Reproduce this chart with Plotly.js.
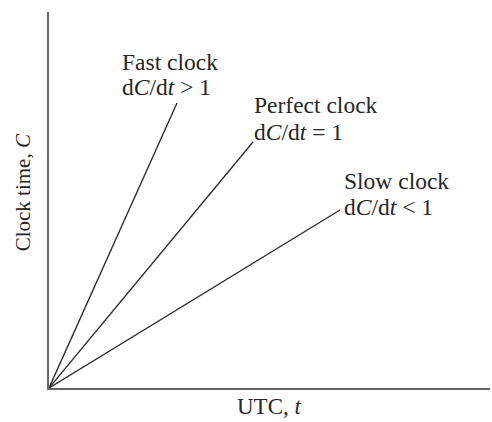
<!DOCTYPE html>
<html>
<head>
<meta charset="utf-8">
<script src="https://cdn.plot.ly/plotly-3.0.1.min.js"></script>
<style>html,body{margin:0;padding:0;background:#fff;}#chart{width:492px;height:422px;}</style>
</head>
<body>
<div id="chart"></div>
<script>
// Clock lines: each starts at the origin and ends at (endT, endC)
const clockNames = ["Fast clock", "Perfect clock", "Slow clock"];
const rateLabels = ["d<i>C</i>/d<i>t</i> > 1", "d<i>C</i>/d<i>t</i> = 1", "d<i>C</i>/d<i>t</i> < 1"];
const endT = [128, 204, 291];
const endC = [285, 246, 178];
// Label anchor positions (left edge, first line / second line)
const labelT = [71, 203, 293];
const labelC1 = [326, 283, 207];
const labelC2 = [301, 256, 181];

const lineColor = "#2e2e2e";
const textColor = "#262626";
const fontFam = "'Liberation Serif', 'Times New Roman', serif";

const traces = clockNames.map((n, i) => ({
  type: "scatter", mode: "lines",
  x: [0, endT[i]], y: [0, endC[i]],
  line: {color: lineColor, width: 1.4},
  hoverinfo: "skip", showlegend: false
}));

const annotations = [];
clockNames.forEach((n, i) => {
  annotations.push({x: labelT[i], y: labelC1[i], xref: "x", yref: "y", text: n,
    showarrow: false, xanchor: "left", yanchor: "middle",
    font: {family: fontFam, size: 23.5, color: textColor}});
  annotations.push({x: labelT[i], y: labelC2[i], xref: "x", yref: "y", text: rateLabels[i],
    showarrow: false, xanchor: "left", yanchor: "middle",
    font: {family: fontFam, size: 23.5, color: textColor}});
});
// axis titles
annotations.push({xref: "paper", yref: "paper", x: 0.5, y: -0.05, text: "UTC, <i>t</i>",
  showarrow: false, xanchor: "center", yanchor: "middle",
  font: {family: fontFam, size: 23, color: textColor}});
annotations.push({xref: "paper", yref: "paper", x: -0.057, y: 0.52, text: "Clock time, <i>C</i>",
  showarrow: false, xanchor: "center", yanchor: "middle", textangle: -90,
  font: {family: fontFam, size: 21, color: textColor}});

const layout = {
  width: 492, height: 422,
  margin: {l: 49, r: 2, t: 12, b: 34},
  paper_bgcolor: "#ffffff", plot_bgcolor: "#ffffff",
  xaxis: {range: [0, 441], showline: true, linecolor: "#666666", linewidth: 2,
    showgrid: false, zeroline: false, showticklabels: false, ticks: "", fixedrange: true},
  yaxis: {range: [0, 376], showline: true, linecolor: "#666666", linewidth: 2,
    showgrid: false, zeroline: false, showticklabels: false, ticks: "", fixedrange: true},
  annotations: annotations,
  showlegend: false
};
Plotly.newPlot("chart", traces, layout, {displayModeBar: false, staticPlot: true});
</script>
</body>
</html>
